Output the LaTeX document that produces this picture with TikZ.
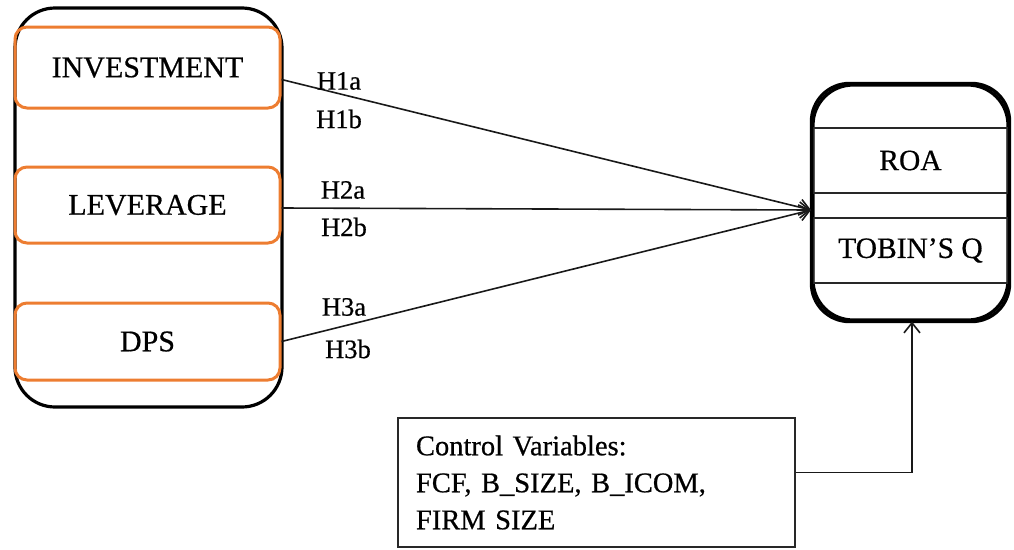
\documentclass[tikz,border=0pt]{standalone}
\usepackage{fontspec}
\setmainfont{Liberation Serif}[FakeBold=0.6]
\usetikzlibrary{arrows.meta,calc}
\definecolor{boxorange}{RGB}{237,125,49}
\definecolor{linegray}{RGB}{40,40,40}
\begin{document}
\begin{tikzpicture}[x=1pt,y=-1pt,
  outerbox/.style={draw=black,line width=3.2pt,rounded corners=40pt,inner sep=0pt},
  varbox/.style={draw=boxorange,line width=3pt,rounded corners=12pt,inner sep=0pt,minimum width=265pt,font=\fontsize{30}{32}\selectfont},
  depbox/.style={draw=linegray,line width=1.6pt,inner sep=0pt,minimum width=195pt,minimum height=65pt,font=\fontsize{29.5}{31}\selectfont},
  hlab/.style={font=\fontsize{26.5}{28}\selectfont,inner sep=0pt},
  arr/.style={draw=black!90,line width=1.6pt,-{Straight Barb[length=10pt,width=16pt,line width=1.6pt]}}
  ]
\useasboundingbox (0,0) rectangle (1014,549);
% left group
\node[outerbox,minimum width=267pt,minimum height=399pt] (lb) at (148.5,207.5) {};
\node[varbox,minimum height=81pt] (inv) at (147.5,67.5) {INVESTMENT};
\node[varbox,minimum height=76pt] (lev) at (147.5,205) {LEVERAGE};
\node[varbox,minimum height=77pt] (dps) at (147.5,341.5) {DPS};
% right group
\node[outerbox,minimum width=195pt,minimum height=235pt] (rb) at (910.5,202.5) {};
\node[depbox] (roa) at (910.5,160.5) {ROA};
\node[depbox] (tq) at (910.5,250.5) {TOBIN'S Q};
\draw[black,line width=3.2pt,rounded corners=38pt] (rb.south west) rectangle (rb.north east);
% control box
\node[draw=linegray,line width=1.6pt,minimum width=397pt,minimum height=129pt,inner xsep=18pt,text width=361pt,align=left,font=\fontsize{28.5}{37}\selectfont] (ctrl) at (596.5,482.5) {Control Variables:\\FCF, B\_SIZE, B\_ICOM,\\FIRM SIZE};
% connectors
\coordinate (tip) at (811,210);
\draw[arr] ([yshift=-12pt]inv.east) -- (tip);
\draw[arr] ([yshift=-3pt]lev.east) -- (tip);
\draw[arr] (dps.east) -- (tip);
\draw[arr] ([yshift=10pt]ctrl.east) -| ([xshift=1.5pt]rb.south);
% labels
\node[hlab] (h1a) at (339,81) {H1a};
\node[hlab] (h1b) at (339,119) {H1b};
\node[hlab] (h2a) at (343,190) {H2a};
\node[hlab] (h2b) at (344,227) {H2b};
\node[hlab] (h3a) at (344,307) {H3a};
\node[hlab] (h3b) at (348,349) {H3b};
\end{tikzpicture}
\end{document}
